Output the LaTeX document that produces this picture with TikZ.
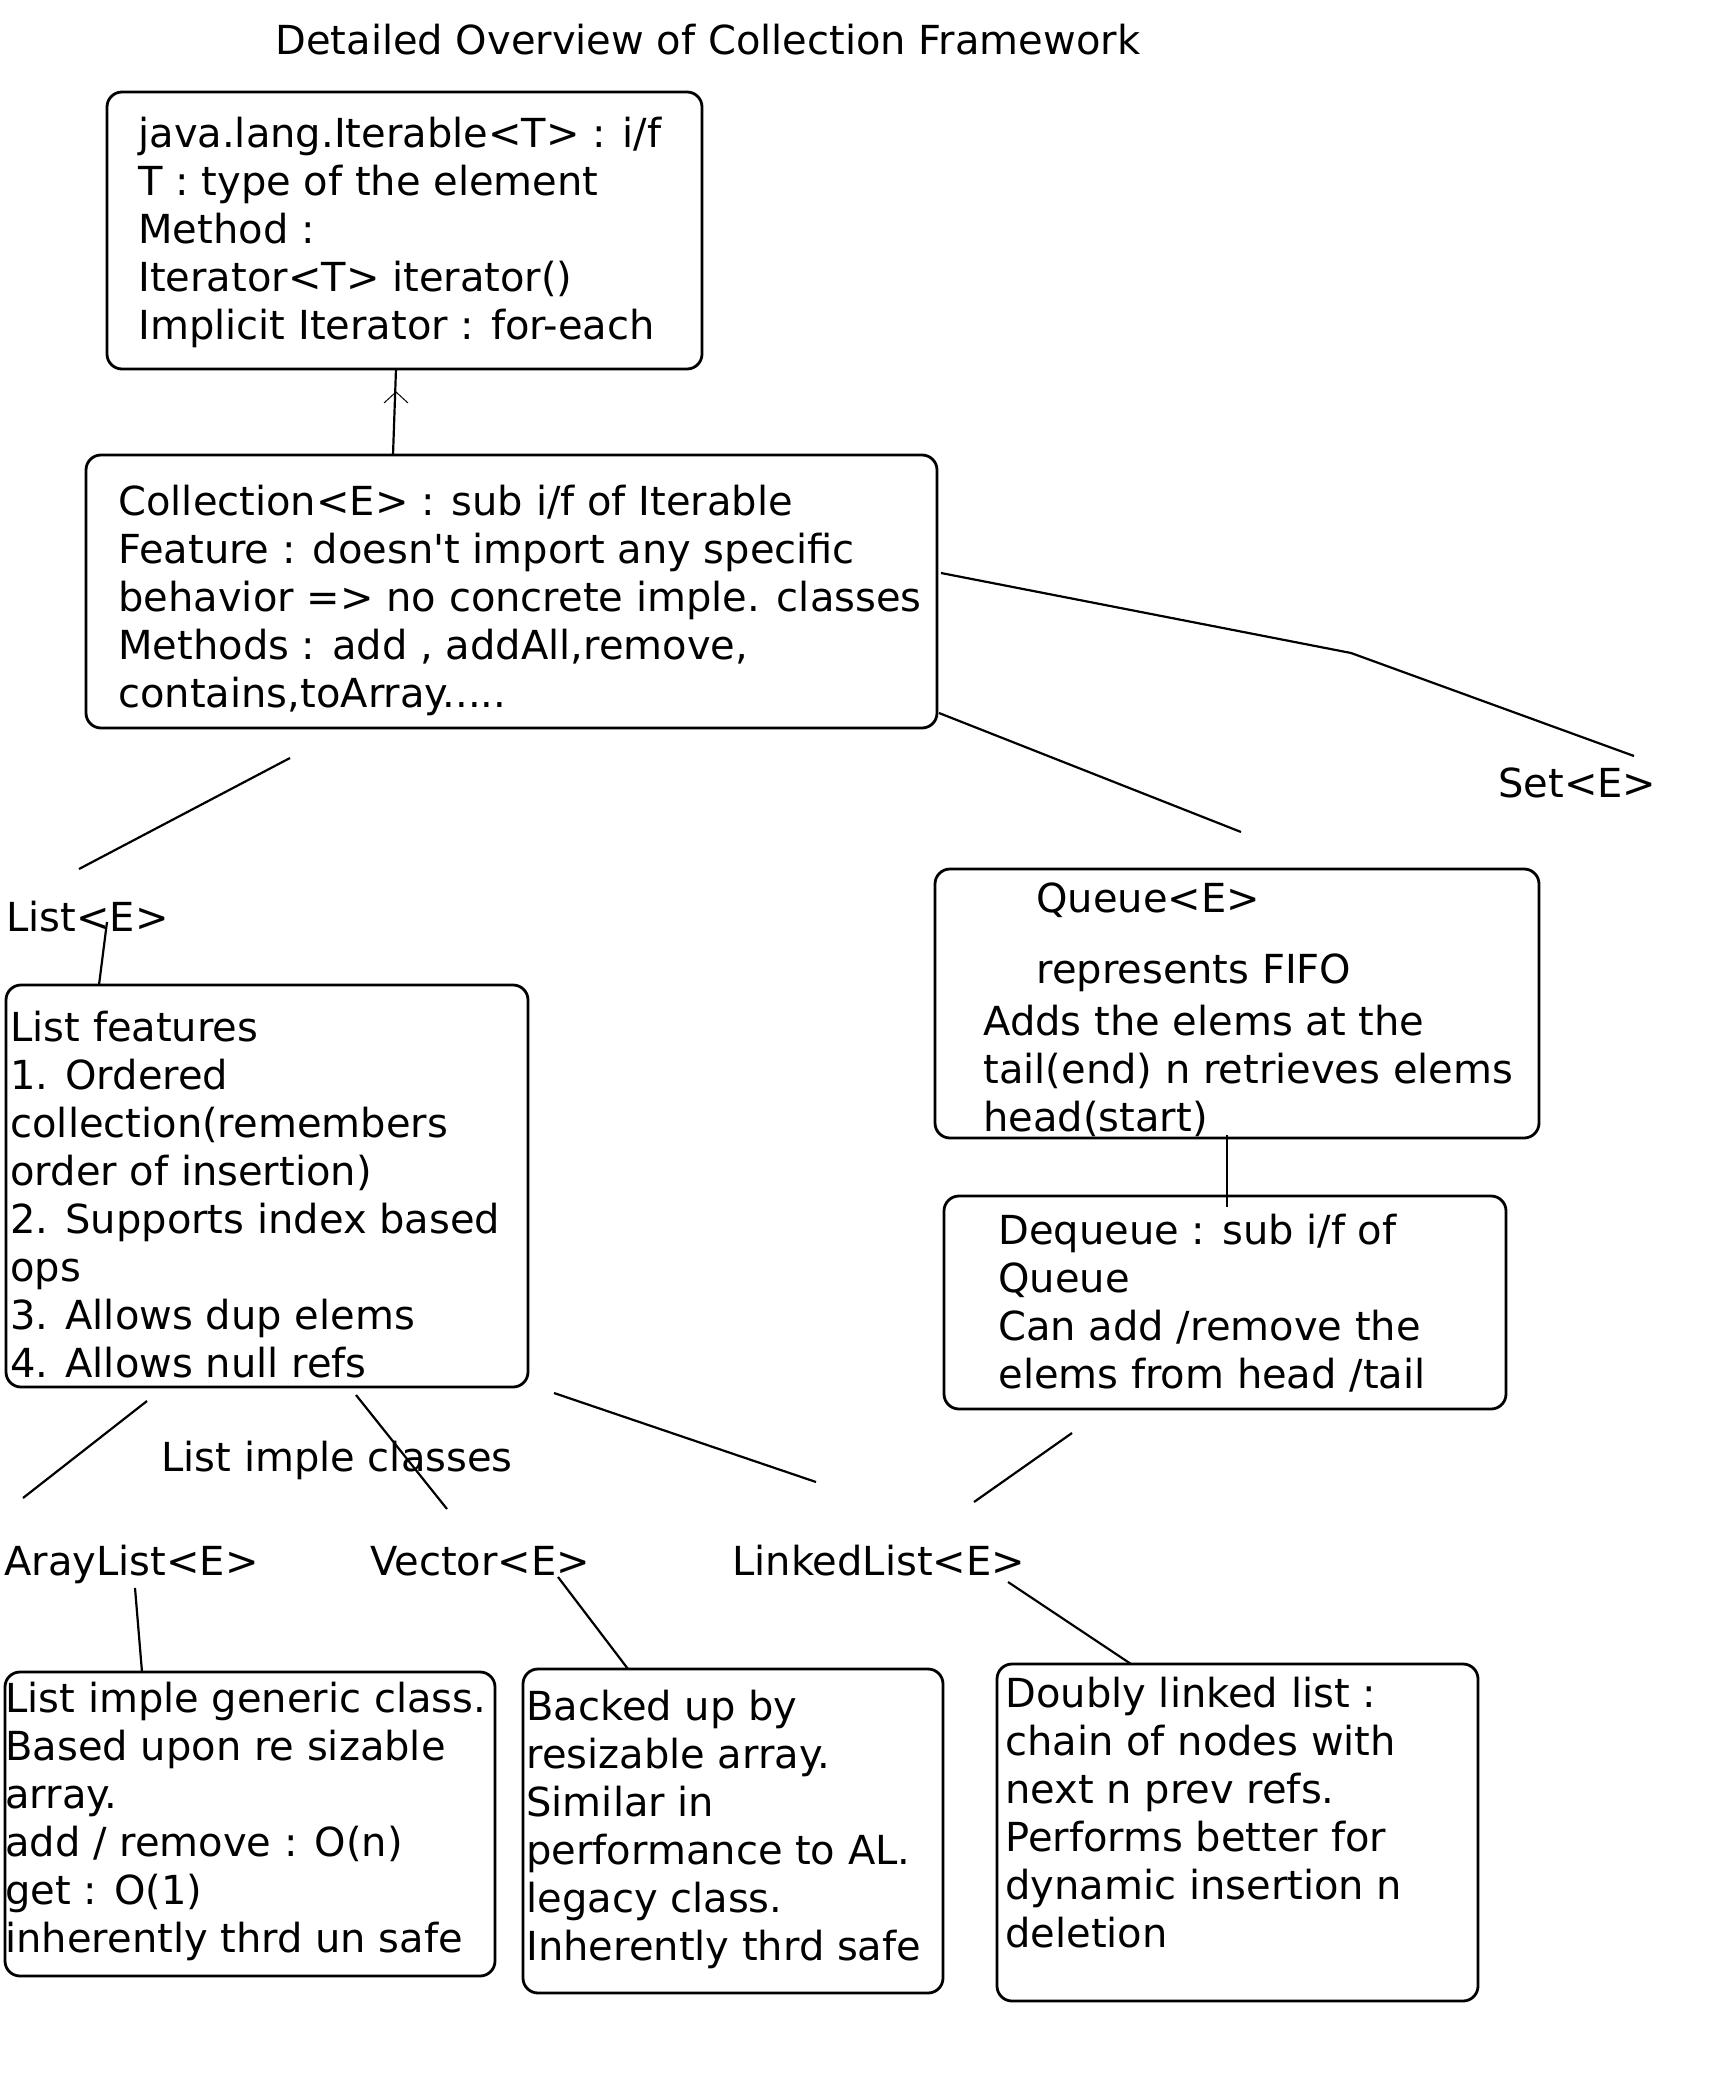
\documentclass[tikz,border=0pt]{standalone}
\usepackage{fontspec}
\setmainfont{DejaVu Sans}
\usetikzlibrary{fit}

% one text node per line, named <box>-0, <box>-1, ...
\newcommand\boxlines[4]{%
  \foreach \ln [count=\k from 0] in {#4} {%
    \node[txt] (#1-\k) at (#2,#3+48*\k) {\ln};
  }}

\begin{document}
\begin{tikzpicture}[x=0.5pt,y=-0.5pt,
  box/.style={draw, line width=1.4pt, rounded corners=7.5pt, inner sep=0pt},
  txt/.style={font=\fontsize{20}{24}\selectfont, inner sep=0pt, anchor=base west},
  link/.style={line width=1.1pt},
  tip/.style={line width=0.5pt},
]
\useasboundingbox[fill=white] (0,0) rectangle (1721,2097);

% title
\node[txt] (title) at (275,55) {Detailed Overview of Collection Framework};

% Iterable
\node[box, fit={(107,92) (702,369)}] (iter) {};
\boxlines{it}{138}{148}{{java.lang.Iterable<T> : i/f},{T : type of the element},{Method :},{Iterator<T> iterator()},{Implicit Iterator : for-each}}

% Collection
\node[box, fit={(86,455) (937,728)}] (coll) {};
\node[txt] (co-0) at (118,515) {Collection<E> : sub i/f of Iterable};
\node[txt] (co-1) at (118,563) {Feature : doesn\textquotesingle t import any specific};
\node[txt] (co-2) at (118,611) {behavior => no concrete imple. classes};
\node[txt] (co-3) at (118,659) {Methods : add , addAll,remove,};
\node[txt] (co-4) at (118,707) {contains,toArray.....};

% labels of the sub interfaces
\node[txt] (setlbl) at (1498,797) {Set<E>};
\node[txt] (listlbl) at (6,931) {List<E>};

% List features
\node[box, fit={(6,985) (528,1387)}] (feat) {};
\boxlines{fe}{10}{1041}{{List features},{1. Ordered},{collection(remembers},{order of insertion)},{2. Supports index based},{ops},{3. Allows dup elems},{4. Allows null refs}}

% Queue
\node[box, fit={(935,869) (1539,1138)}] (queue) {};
\node[txt] (qu-0) at (1036,912) {Queue<E>};
\node[txt] (qu-1) at (1036,983) {represents FIFO};
\node[txt] (qu-2) at (983,1035) {Adds the elems at the};
\node[txt] (qu-3) at (983,1083) {tail(end) n retrieves elems};
\node[txt] (qu-4) at (983,1131) {head(start)};

% Dequeue
\node[box, fit={(944,1196) (1506,1409)}] (deq) {};
\boxlines{dq}{998}{1244}{{Dequeue : sub i/f of},{Queue},{Can add /remove the},{elems from head /tail}}

% implementation classes
\node[txt] (implbl) at (161,1471) {List imple classes};
\node[txt] (allbl) at (4,1575) {ArayList<E>};
\node[txt] (veclbl) at (370,1575) {Vector<E>};
\node[txt] (lllbl) at (732,1575) {LinkedList<E>};

\node[box, fit={(5,1672) (495,1976)}] (al) {};
\boxlines{al}{5}{1712}{{List imple generic class.},{Based upon re sizable},{array.},{add / remove : O(n)},{get : O(1)},{inherently thrd un safe}}

\node[box, fit={(523,1669) (943,1993)}] (vec) {};
\boxlines{ve}{526}{1720}{{Backed up by},{resizable array.},{Similar in},{performance to AL.},{legacy class.},{Inherently thrd safe}}

\node[box, fit={(997,1664) (1478,2001)}] (ll) {};
\boxlines{ll}{1005}{1707}{{Doubly linked list :},{chain of nodes with},{next n prev refs.},{Performs better for},{dynamic insertion n},{deletion}}

% connector end points
\coordinate (coll-top) at (393,455);
\coordinate (iter-bot) at (396,369);
\coordinate (iter-tip) at (396,392);
\coordinate (list-a) at (290,758);
\coordinate (list-b) at (79,869);
\coordinate (set-a) at (941,573);
\coordinate (set-k) at (1351,653);
\coordinate (set-b) at (1634,756);
\coordinate (queue-a) at (939,713);
\coordinate (queue-b) at (1241,832);
\coordinate (listlbl-a) at (107,922);
\coordinate (feat-top) at (99,985);
\coordinate (queue-bot) at (1227,1135);
\coordinate (deq-top) at (1227,1207);
\coordinate (al-a) at (147,1401);
\coordinate (al-b) at (23,1498);
\coordinate (vec-a) at (356,1395);
\coordinate (vec-b) at (447,1509);
\coordinate (ll-a) at (554,1393);
\coordinate (ll-b) at (816,1482);
\coordinate (deqll-a) at (1072,1433);
\coordinate (deqll-b) at (974,1502);
\coordinate (allbl-a) at (135,1588);
\coordinate (al-top) at (142,1672);
\coordinate (veclbl-a) at (558,1577);
\coordinate (vec-top) at (628,1669);
\coordinate (lllbl-a) at (1008,1582);
\coordinate (ll-top) at (1131,1664);

% connectors
\draw[link] (coll-top) -- (iter-bot);
\draw[tip] ([shift={(-12,11)}]iter-tip) -- (iter-tip) -- ([shift={(12,11)}]iter-tip);
\draw[link] (list-a) -- (list-b);
\draw[link] (set-a) -- (set-k) -- (set-b);
\draw[link] (queue-a) -- (queue-b);
\draw[link] (listlbl-a) -- (feat-top);
\draw[link] (queue-bot) -- (deq-top);
\draw[link] (al-a) -- (al-b);
\draw[link] (vec-a) -- (vec-b);
\draw[link] (ll-a) -- (ll-b);
\draw[link] (deqll-a) -- (deqll-b);
\draw[link] (allbl-a) -- (al-top);
\draw[link] (veclbl-a) -- (vec-top);
\draw[link] (lllbl-a) -- (ll-top);
\end{tikzpicture}
\end{document}
